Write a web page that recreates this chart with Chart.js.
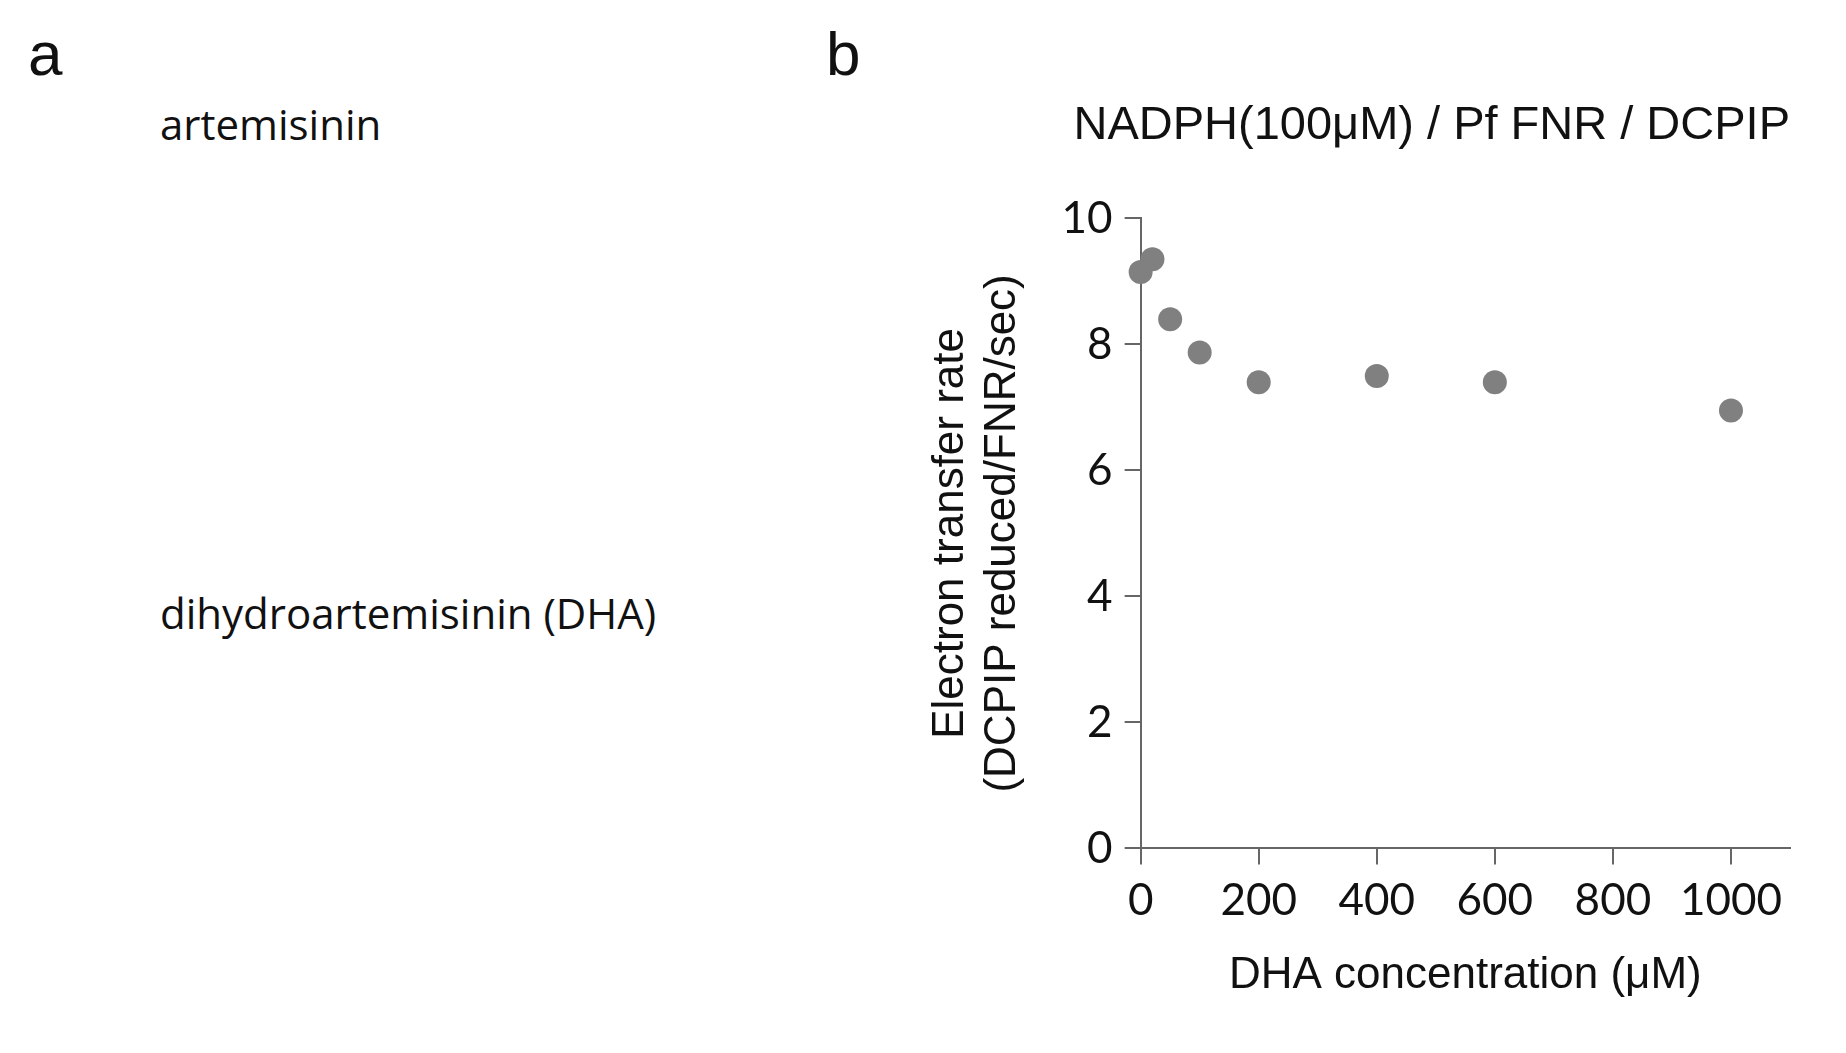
<!DOCTYPE html>
<html>
<head>
<meta charset="utf-8">
<script src="https://cdn.jsdelivr.net/npm/chart.js@4/dist/chart.umd.min.js"></script>
<style>
  body { margin: 0; width: 1846px; height: 1053px; background: #fff; position: relative; overflow: hidden; font-family: "Liberation Sans", Arial, sans-serif; }
  .lbl { position: absolute; color: #111; white-space: nowrap; }
  #wrap { position: absolute; left: 880px; top: 60px; width: 966px; height: 993px; }
</style>
</head>
<body>
<div class="lbl" style="left:28px;top:18px;font-size:62px;">a</div>
<div class="lbl" style="left:826px;top:18px;font-size:62px;">b</div>
<div class="lbl" style="left:160px;top:95px;font-size:42px;font-family:'Open Sans',sans-serif;">artemisinin</div>
<div class="lbl" style="left:160px;top:584px;font-size:42px;font-family:'Open Sans',sans-serif;">dihydroartemisinin (DHA)</div>
<div id="wrap"><canvas id="chart"></canvas></div>
<script>
/* --------------------------------------------
   Data
-------------------------------------------- */
const concentrations = [0, 20, 50, 100, 200, 400, 600, 1000];
const rates = [9.15, 9.35, 8.4, 7.87, 7.4, 7.5, 7.4, 6.95];
const xTicks = [0, 200, 400, 600, 800, 1000];
const yTicks = [0, 2, 4, 6, 8, 10];

const tickFont = { family: "Lato, 'Open Sans', sans-serif", size: 44 };
const titleFont = { family: "'Liberation Sans', Arial, sans-serif", size: 44 };

new Chart(document.getElementById("chart"), {
  type: "scatter",
  data: {
    datasets: [
      {
        data: concentrations.map((x, i) => ({ x, y: rates[i] })),
        backgroundColor: "#808080",
        borderWidth: 0,
        pointRadius: 12,
        clip: false,
      },
    ],
  },
  options: {
    responsive: true,
    maintainAspectRatio: false,
    animation: false,
    layout: { padding: { left: 40, right: 56, top: 0, bottom: 47 } },
    plugins: {
      legend: { display: false },
      tooltip: { enabled: false },
      title: {
        display: true,
        text: "NADPH(100\u03bcM) / Pf FNR / DCPIP",
        color: "#111",
        font: { family: "'Liberation Sans', Arial, sans-serif", size: 47, weight: "normal" },
        padding: { top: 38, bottom: 64 },
        align: "end",
      },
    },
    scales: {
      x: {
        type: "linear",
        min: 0,
        max: 1100,
        afterBuildTicks: (axis) => { axis.ticks = xTicks.map((v) => ({ value: v })); },
        grid: { display: true, drawOnChartArea: false, drawTicks: true, tickLength: 16, color: "#666", lineWidth: 2 },
        border: { color: "#666", width: 2 },
        ticks: { color: "#111", font: tickFont, padding: 10, callback: (v) => String(v) },
        title: { display: true, text: "DHA concentration (\u03bcM)", color: "#111", font: titleFont, padding: { top: 12 } },
      },
      y: {
        min: 0,
        max: 10,
        afterBuildTicks: (axis) => { axis.ticks = yTicks.map((v) => ({ value: v })); },
        grid: { display: true, drawOnChartArea: false, drawTicks: true, tickLength: 16, color: "#666", lineWidth: 2 },
        border: { color: "#666", width: 2 },
        ticks: { color: "#111", font: tickFont, padding: 12 },
        title: { display: true, text: ["Electron transfer rate", "(DCPIP reduced/FNR/sec)"], color: "#111", font: titleFont, padding: { bottom: 20 } },
      },
    },
  },
});
</script>
</body>
</html>
